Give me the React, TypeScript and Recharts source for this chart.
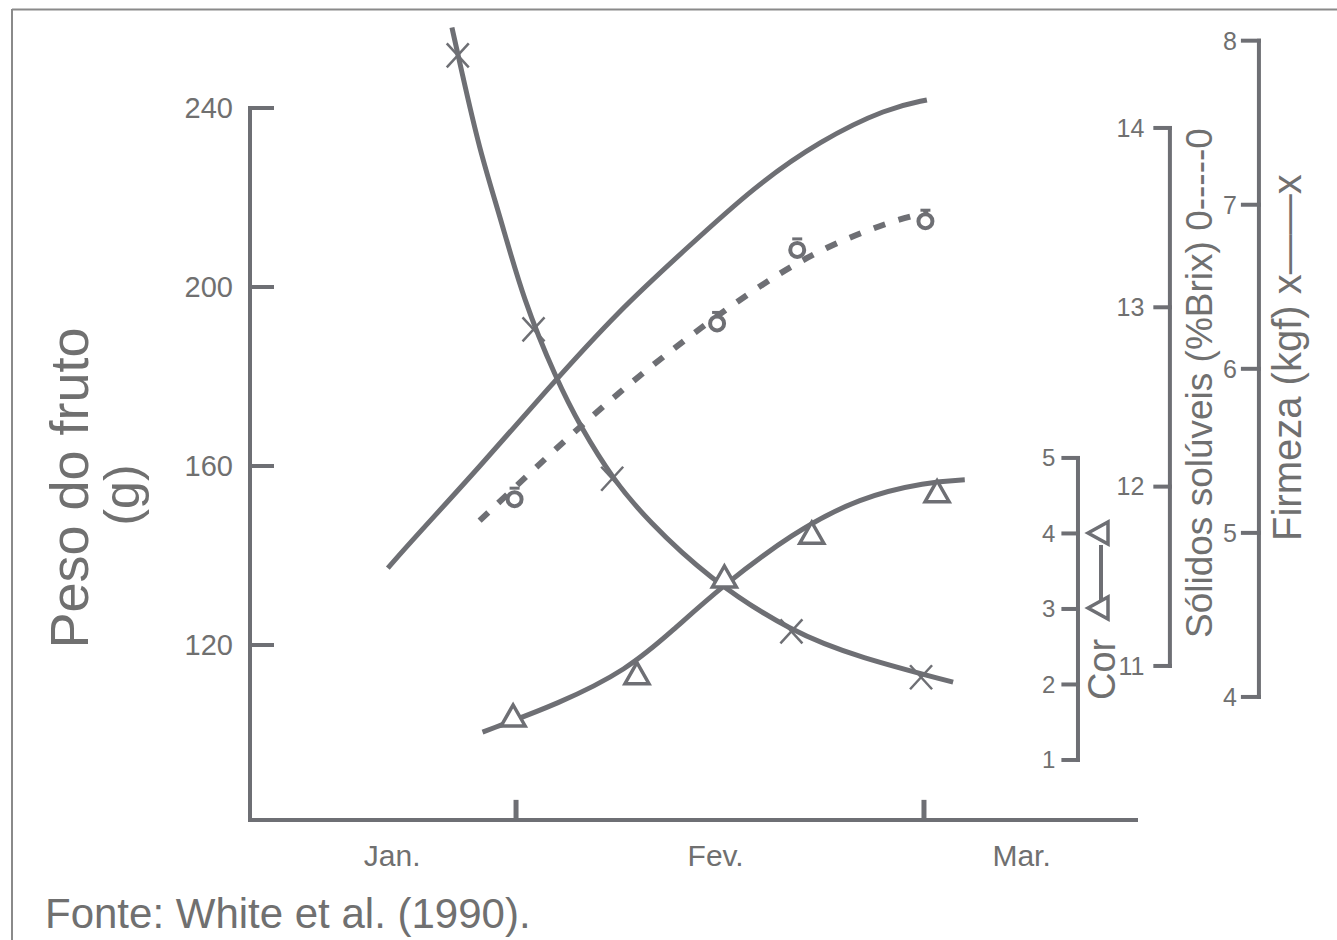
import React from "react";
import { ComposedChart, Line, Scatter, XAxis, YAxis, ReferenceLine } from "recharts";

// x = dia do ano (1 fev = 32, 1 mar = 60)
const monthLabelPos = [23.5, 45.7, 66.7];
const monthLabels = ["Jan.", "Fev.", "Mar."];
const monthStarts = [32, 60];

const pesoTicks = [120, 160, 200, 240];
const corTicks = [1, 2, 3, 4, 5];
const brixTicks = [11, 12, 13, 14];
const firmezaTicks = [4, 5, 6, 7, 8];

// peso do fruto (g) - curva ajustada
const pesoCurveX = [23.2, 24.9, 29.5, 34.1, 39.1, 43.7, 48.3, 52.9, 57.5, 60.2];
const pesoCurveY = [137.2, 143.5, 159.8, 177.0, 194.9, 208.6, 222.3, 232.8, 240.0, 241.8];

// solidos soluveis (%Brix)
const brixCurveX = [29.5, 33.0, 38.2, 43.7, 49.2, 53.3, 57.7, 60.3];
const brixCurveY = [11.81, 12.08, 12.47, 12.83, 13.15, 13.34, 13.48, 13.53];
const brixObsX = [31.9, 45.8, 51.3, 60.1];
const brixObsY = [11.93, 12.91, 13.32, 13.48];

// firmeza (kgf)
const firmCurveX = [27.6, 28.2, 29.5, 30.9, 32.5, 34.8, 36.4, 38.7, 41.0, 45.1, 51.0, 55.6, 62.0];
const firmCurveY = [8.08, 7.84, 7.33, 6.93, 6.42, 5.93, 5.65, 5.32, 5.08, 4.73, 4.39, 4.24, 4.09];
const firmObsX = [28.0, 33.2, 38.6, 50.9, 59.8];
const firmObsY = [7.91, 6.24, 5.33, 4.4, 4.12];

// cor
const corCurveX = [29.7, 35.0, 39.6, 42.8, 46.0, 51.0, 55.6, 60.2, 62.8];
const corCurveY = [1.37, 1.75, 2.19, 2.72, 3.28, 4.01, 4.48, 4.68, 4.71];
const corObsX = [31.8, 40.3, 46.3, 52.3, 60.9];
const corObsY = [1.57, 2.13, 3.41, 3.99, 4.54];

const zip = (xs: number[], ys: number[]) => xs.map((x, i) => ({ x, y: ys[i] }));

const X_MIN = 13.74;
const X_MAX = 74.69;
const PESO_MIN = 80.9;
const COR_AXIS_X = 70.57;
const BRIX_AXIS_X = 76.88;
const FIRM_AXIS_X = 82.99;

const INK = "#6e6f74";
const TEXT = "#707070";
const FONT = "'Liberation Sans', Arial, sans-serif";

function axisLines(
  id: string,
  axisX: number,
  from: number,
  ticks: number[],
  tickLen: number,
  offset: number,
  fontSize: number
) {
  const top = ticks[ticks.length - 1];
  const out = [
    <ReferenceLine
      key={id + "-line"}
      yAxisId={id}
      segment={[{ x: axisX, y: from }, { x: axisX, y: top }]}
      stroke={INK}
      strokeWidth={4}
      strokeLinecap="square"
      ifOverflow="visible"
    />,
  ];
  ticks.forEach((t) => {
    const x2 = axisX + tickLen;
    out.push(
      <ReferenceLine
        key={id + "-t" + t}
        yAxisId={id}
        segment={[{ x: Math.min(axisX, x2), y: t }, { x: Math.max(axisX, x2), y: t }]}
        stroke={INK}
        strokeWidth={4}
        strokeLinecap="square"
        ifOverflow="visible"
        label={{ value: String(t), position: "left", offset, fill: TEXT, fontSize }}
      />
    );
  });
  return out;
}

const Triangle = (p: any) => {
  const { cx, cy } = p;
  if (cx == null || cy == null) return null;
  return (
    <polygon
      points={`${cx},${cy - 12} ${cx - 12},${cy + 9} ${cx + 12},${cy + 9}`}
      fill="#fff"
      stroke={INK}
      strokeWidth={3.5}
    />
  );
};

const Cross = (p: any) => {
  const { cx, cy } = p;
  if (cx == null || cy == null) return null;
  return (
    <g stroke={INK} strokeWidth={2.5}>
      <line x1={cx - 11} y1={cy - 12} x2={cx + 11} y2={cy + 12} />
      <line x1={cx - 11} y1={cy + 12} x2={cx + 11} y2={cy - 12} />
    </g>
  );
};

const Ring = (p: any) => {
  const { cx, cy } = p;
  if (cx == null || cy == null) return null;
  return (
    <g>
      <circle cx={cx} cy={cy} r={7} fill="#fff" stroke={INK} strokeWidth={4} />
      <line x1={cx - 5} y1={cy - 11} x2={cx + 5} y2={cy - 11} stroke={INK} strokeWidth={3} />
    </g>
  );
};

const MonthTick = (p: any) => {
  const i = monthLabelPos.indexOf(p.payload.value);
  return (
    <text x={p.x} y={p.y} dy={38} textAnchor="middle" fill={TEXT} fontSize={30}>
      {monthLabels[i]}
    </text>
  );
};

export default function App() {
  return (
    <div
      style={{
        position: "absolute",
        left: 0,
        top: 0,
        width: 1337,
        height: 940,
        background: "#fff",
        fontFamily: FONT,
      }}
    >
      <ComposedChart width={1337} height={940} margin={{ top: 20, right: 199, bottom: 60, left: 250 }}>
        <XAxis
          xAxisId={0}
          dataKey="x"
          type="number"
          domain={[X_MIN, X_MAX]}
          ticks={monthLabelPos}
          interval={0}
          axisLine={false}
          tickLine={false}
          height={60}
          tick={<MonthTick />}
        />
        <YAxis yAxisId="peso" dataKey="y" type="number" domain={[PESO_MIN, 259.66]} hide />
        <YAxis yAxisId="cor" dataKey="y" type="number" domain={[0.205, 10.8]} hide />
        <YAxis yAxisId="brix" dataKey="y" type="number" domain={[10.141, 14.602]} hide />
        <YAxis yAxisId="firm" dataKey="y" type="number" domain={[3.25, 8.126]} hide />

        {/* eixo x */}
        <ReferenceLine
          yAxisId="peso"
          segment={[{ x: X_MIN, y: PESO_MIN }, { x: X_MAX, y: PESO_MIN }]}
          stroke={INK}
          strokeWidth={4}
          ifOverflow="visible"
        />
        {monthStarts.map((m) => (
          <ReferenceLine
            key={"m" + m}
            yAxisId="peso"
            segment={[{ x: m, y: PESO_MIN }, { x: m, y: PESO_MIN + 4.5 }]}
            stroke={INK}
            strokeWidth={5}
            ifOverflow="visible"
          />
        ))}

        {axisLines("peso", X_MIN, PESO_MIN, pesoTicks, 1.51, 17, 29)}
        {axisLines("cor", COR_AXIS_X, 1, corTicks, -1.0, 8, 24)}
        {axisLines("brix", BRIX_AXIS_X, 11, brixTicks, -1.0, 11, 25)}
        {axisLines("firm", FIRM_AXIS_X, 4, firmezaTicks, -1.1, 6, 25)}

        <Line
          yAxisId="peso"
          data={zip(pesoCurveX, pesoCurveY)}
          dataKey="y"
          type="basis"
          dot={false}
          stroke={INK}
          strokeWidth={5}
          isAnimationActive={false}
        />
        <Line
          yAxisId="brix"
          data={zip(brixCurveX, brixCurveY)}
          dataKey="y"
          type="basis"
          dot={false}
          stroke={INK}
          strokeWidth={6}
          strokeDasharray="12 14"
          isAnimationActive={false}
        />
        <Line
          yAxisId="firm"
          data={zip(firmCurveX, firmCurveY)}
          dataKey="y"
          type="basis"
          dot={false}
          stroke={INK}
          strokeWidth={5}
          isAnimationActive={false}
        />
        <Line
          yAxisId="cor"
          data={zip(corCurveX, corCurveY)}
          dataKey="y"
          type="basis"
          dot={false}
          stroke={INK}
          strokeWidth={5}
          isAnimationActive={false}
        />
        <Scatter yAxisId="brix" data={zip(brixObsX, brixObsY)} shape={<Ring />} isAnimationActive={false} />
        <Scatter yAxisId="firm" data={zip(firmObsX, firmObsY)} shape={<Cross />} isAnimationActive={false} />
        <Scatter yAxisId="cor" data={zip(corObsX, corObsY)} shape={<Triangle />} isAnimationActive={false} />
      </ComposedChart>

      <svg
        width={1337}
        height={940}
        style={{ position: "absolute", left: 0, top: 0, pointerEvents: "none" }}
      >
        <line x1={12} y1={9.5} x2={1337} y2={9.5} stroke="#8a8a8a" strokeWidth={2} />
        <line x1={12} y1={9} x2={12} y2={940} stroke="#8a8a8a" strokeWidth={2} />

        <text transform="translate(88,488) rotate(-90)" textAnchor="middle" fill={TEXT} fontSize={54}>
          Peso do fruto
        </text>
        <text transform="translate(139,495) rotate(-90)" textAnchor="middle" fill={TEXT} fontSize={50}>
          (g)
        </text>

        <text transform="translate(1115,700) rotate(-90)" fill={TEXT} fontSize={38}>
          Cor
        </text>
        <polygon points="1088,608 1108,597 1108,619" fill="none" stroke={INK} strokeWidth={3.5} />
        <polygon points="1088,533 1108,522 1108,544" fill="none" stroke={INK} strokeWidth={3.5} />
        <line x1={1101} y1={545} x2={1101} y2={600} stroke={INK} strokeWidth={4} />

        <text transform="translate(1212,638) rotate(-90)" fill={TEXT} fontSize={37}>
          Sólidos solúveis (%Brix) 0-----0
        </text>
        <text transform="translate(1301,541) rotate(-90)" fill={TEXT} fontSize={40}>
          Firmeza (kgf) x——x
        </text>

        <text x={45} y={928} fill={TEXT} fontSize={42}>
          Fonte: White et al. (1990).
        </text>
      </svg>
    </div>
  );
}
